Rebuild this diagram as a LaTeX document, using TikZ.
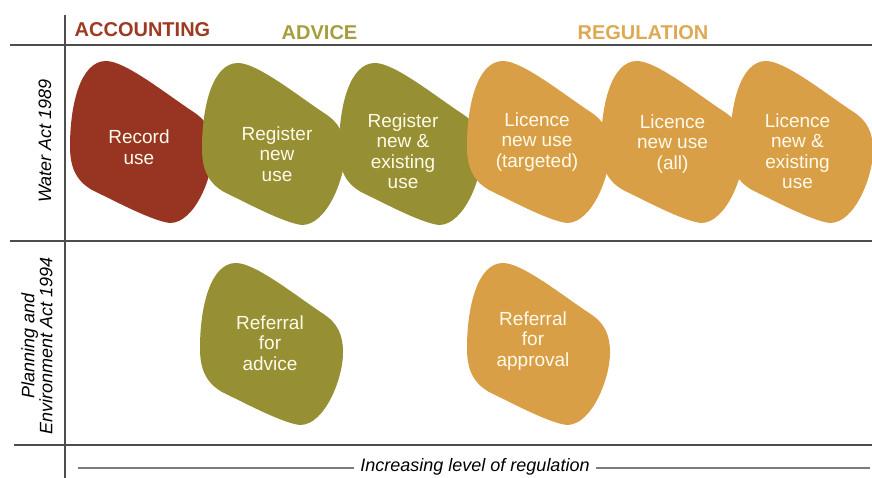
\documentclass[tikz,border=0pt]{standalone}
\usepackage{fontspec}
\setmainfont{Liberation Sans}

\definecolor{rust}{HTML}{983522}
\definecolor{olive}{HTML}{968F33}
\definecolor{gold}{HTML}{D99F47}
\definecolor{hdrrust}{HTML}{9C3A22}
\definecolor{hdrolive}{HTML}{A69E3C}
\definecolor{hdrgold}{HTML}{DFA853}
\definecolor{rulegray}{HTML}{4D4D4D}
\definecolor{axisgray}{HTML}{7C7C7C}
\definecolor{cream}{HTML}{FFFBEA}

\tikzset{
  gridline/.style={draw=rulegray, line width=1.6pt},
  axisline/.style={draw=axisgray, line width=2.8pt},
  header/.style={font=\fontsize{20}{22}\selectfont\bfseries, anchor=base, inner sep=0pt},
  sidelabel/.style={font=\fontsize{18}{18}\selectfont\itshape, rotate=90, align=center, inner sep=0pt},
  blobtext/.style={font=\fontsize{19}{20.5}\selectfont, text=cream, align=center, inner sep=0pt},
  pics/blob/.style={code={
    \fill[#1] (0,85) .. controls (0,45) and (10,0) .. (36,0)
      .. controls (55,0) and (95,32) .. (122,50)
      .. controls (138,60) and (143,72) .. (143,90)
      .. controls (143,115) and (125,162) .. (100,162)
      .. controls (82,160) and (45,140) .. (22,129)
      .. controls (5,119) and (0,105) .. cycle;
  }}
}

\begin{document}
\begin{tikzpicture}[x=1pt,y=-1pt]
\useasboundingbox (0,0) rectangle (872,478);
\fill[white] (0,0) rectangle (872,478);

% table rules
\coordinate (vtop) at (65,15);
\coordinate (vbot) at (65,478);
\coordinate (h1l) at (10,45);  \coordinate (h1r) at (872,45);
\coordinate (h2l) at (10,241); \coordinate (h2r) at (872,241);
\coordinate (h3l) at (14,445); \coordinate (h3r) at (872,445);
\draw[gridline] (vtop) -- (vbot);
\draw[gridline] (h1l) -- (h1r);
\draw[gridline] (h2l) -- (h2r);
\draw[gridline] (h3l) -- (h3r);

% column headings
\node[header, text=hdrrust]  (acc) at (142.5,37) {ACCOUNTING};
\node[header, text=hdrolive] (adv) at (319.5,40) {ADVICE};
\node[header, text=hdrgold]  (reg) at (643,40)   {REGULATION};

% row headings
\node[sidelabel] (wa) at (45,141) {Water Act 1989};
\node[sidelabel] (pe) at (37,346) {Planning and\\Environment Act 1994};

% Water Act row
\pic at (70,61)  {blob=rust};
\node[blobtext] (rec) at (139,147) {Record\\use};
\pic at (202,63) {blob=olive};
\node[blobtext] (regn) at (277,154) {Register\\new\\use};
\pic at (339,63) {blob=olive};
\node[blobtext] (regne) at (403,151) {Register\\new \&\\existing\\use};
\pic at (467,61) {blob=gold};
\node[blobtext] (lict) at (537,142) {Licence\\new use\\(targeted)};
\pic at (601,61) {blob=gold};
\node[blobtext] (lica) at (672.5,144) {Licence\\new use\\(all)};
\pic at (730,61) {blob=gold};
\node[blobtext] (licne) at (797.5,151) {Licence\\new \&\\existing\\use};

% Planning and Environment Act row
\pic at (200,263) {blob=olive};
\node[blobtext] (refa) at (270,343) {Referral\\for\\advice};
\pic at (467,263) {blob=gold};
\node[blobtext] (refp) at (533,341) {Referral\\for\\approval};

% regulation axis
\node[font=\fontsize{18}{18}\selectfont\itshape, inner sep=6pt] (lvl) at (475,467) {Increasing level of regulation};
\coordinate (axl) at (78,468);
\coordinate (axr) at (870,468);
\draw[axisline] (axl) -- (axl -| lvl.west);
\draw[axisline] (axl -| lvl.east) -- (axr);
\end{tikzpicture}
\end{document}
